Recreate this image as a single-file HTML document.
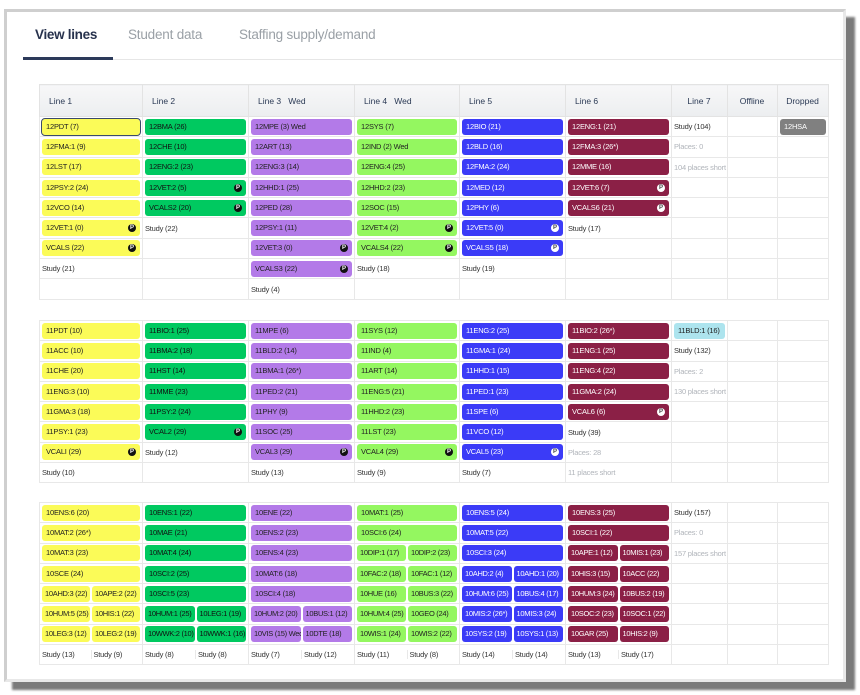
<!DOCTYPE html>
<html><head><meta charset="utf-8"><style>
*{box-sizing:border-box}
body{margin:0;width:860px;height:695px;background:#fff;font-family:"Liberation Sans",sans-serif;position:relative;overflow:hidden}
.shadow{position:absolute;left:12px;top:17px;width:843px;height:673px;background:#7a7a7a;filter:blur(1px)}
.card{position:absolute;left:4px;top:9px;width:842px;height:673px;background:#fff;border:3px solid #cfcfcf;border-right-color:#e8e8e8;border-bottom-color:#e8e8e8}
.tab{position:absolute;top:27px;font-size:13.5px;color:#9aa0a6;letter-spacing:-0.2px}
.tab.a{color:#27324d;font-weight:bold;letter-spacing:-0.3px}
.ul{position:absolute;left:23px;top:57px;width:90px;height:3px;background:#2c3a5a}
.hl{position:absolute;left:23px;top:59px;width:822px;height:1px;background:#e6e6e6}
table{position:absolute;left:39px;border-collapse:collapse;table-layout:fixed;width:789px}
td{border:1px solid #e8e8e8;height:20.3px;padding:0 2px;font-size:7.5px;color:#333;vertical-align:middle;white-space:nowrap;overflow:hidden;letter-spacing:-0.2px}
th{height:32px;border:1px solid #e3e3e3;background:linear-gradient(#f7f7f8,#eceef0);font-weight:normal;font-size:8.5px;color:#2b3a55;text-align:left;padding-left:9px}
th.c{text-align:center;padding-left:0}
.p{height:16px;line-height:16px;border-radius:3px;padding:0 4px;font-size:7.5px;position:relative;overflow:hidden}
.y{background:#fbfb58;color:#222}.g{background:#00c960;color:#111}.u{background:#b37ae8;color:#222}
.l{background:#94f760;color:#222}.b{background:#3b3bf7;color:#fff}.m{background:#8b2046;color:#fff}
.k{background:#808080;color:#fff}.c2{background:#ade4ee;color:#222}
.p i{position:absolute;right:4px;top:4px;width:8px;height:8px;border-radius:50%;background:#111;color:#fff;font-style:normal;font-size:6px;line-height:8px;text-align:center;font-weight:bold;letter-spacing:0}
.b i,.m i{background:#fff;color:#444}
.s{display:flex;gap:2px}.s>.p{flex:1;padding:0 3px;letter-spacing:-0.3px;font-size:7.5px}
.ss{display:flex;margin:0 -2px}.ss>div{flex:1;padding-left:2px}.ss>div+div{border-left:1px solid #e8e8e8}
.gr{color:#b0b4ba}
.sel{outline:1px solid #3a4a6a}
</style></head><body>
<div class="shadow"></div>
<div class="card"></div>
<div class="tab a" style="left:35px">View lines</div>
<div class="tab" style="left:128px">Student data</div>
<div class="tab" style="left:239px">Staffing supply/demand</div>
<div class="hl"></div><div class="ul"></div>

<table style="top:84px">
<colgroup><col style="width:103px"><col style="width:106px"><col style="width:106px"><col style="width:105px"><col style="width:106px"><col style="width:106px"><col style="width:56px"><col style="width:50px"><col style="width:51px"></colgroup>
<tr><th>Line 1</th><th>Line 2</th><th>Line 3&nbsp;&nbsp; Wed</th><th>Line 4&nbsp;&nbsp; Wed</th><th>Line 5</th><th>Line 6</th><th class="c">Line 7</th><th class="c">Offline</th><th class="c">Dropped</th></tr>
<tr><td><div class="p y sel">12PDT (7)</div></td><td><div class="p g">12BMA (26)</div></td><td><div class="p u">12MPE (3) Wed</div></td><td><div class="p l">12SYS (7)</div></td><td><div class="p b">12BIO (21)</div></td><td><div class="p m">12ENG:1 (21)</div></td><td>Study (104)</td><td></td><td><div class="p k">12HSA</div></td></tr>
<tr><td><div class="p y">12FMA:1 (9)</div></td><td><div class="p g">12CHE (10)</div></td><td><div class="p u">12ART (13)</div></td><td><div class="p l">12IND (2) Wed</div></td><td><div class="p b">12BLD (16)</div></td><td><div class="p m">12FMA:3 (26*)</div></td><td class="gr">Places: 0</td><td></td><td></td></tr>
<tr><td><div class="p y">12LST (17)</div></td><td><div class="p g">12ENG:2 (23)</div></td><td><div class="p u">12ENG:3 (14)</div></td><td><div class="p l">12ENG:4 (25)</div></td><td><div class="p b">12FMA:2 (24)</div></td><td><div class="p m">12MME (16)</div></td><td class="gr">104 places short</td><td></td><td></td></tr>
<tr><td><div class="p y">12PSY:2 (24)</div></td><td><div class="p g">12VET:2 (5)<i>P</i></div></td><td><div class="p u">12HHD:1 (25)</div></td><td><div class="p l">12HHD:2 (23)</div></td><td><div class="p b">12MED (12)</div></td><td><div class="p m">12VET:6 (7)<i>P</i></div></td><td></td><td></td><td></td></tr>
<tr><td><div class="p y">12VCO (14)</div></td><td><div class="p g">VCALS2 (20)<i>P</i></div></td><td><div class="p u">12PED (28)</div></td><td><div class="p l">12SOC (15)</div></td><td><div class="p b">12PHY (6)</div></td><td><div class="p m">VCALS6 (21)<i>P</i></div></td><td></td><td></td><td></td></tr>
<tr><td><div class="p y">12VET:1 (0)<i>P</i></div></td><td>Study (22)</td><td><div class="p u">12PSY:1 (11)</div></td><td><div class="p l">12VET:4 (2)<i>P</i></div></td><td><div class="p b">12VET:5 (0)<i>P</i></div></td><td>Study (17)</td><td></td><td></td><td></td></tr>
<tr><td><div class="p y">VCALS (22)<i>P</i></div></td><td></td><td><div class="p u">12VET:3 (0)<i>P</i></div></td><td><div class="p l">VCALS4 (22)<i>P</i></div></td><td><div class="p b">VCALS5 (18)<i>P</i></div></td><td></td><td></td><td></td><td></td></tr>
<tr><td>Study (21)</td><td></td><td><div class="p u">VCALS3 (22)<i>P</i></div></td><td>Study (18)</td><td>Study (19)</td><td></td><td></td><td></td><td></td></tr>
<tr><td></td><td></td><td>Study (4)</td><td></td><td></td><td></td><td></td><td></td><td></td></tr>
</table>

<table style="top:320px">
<colgroup><col style="width:103px"><col style="width:106px"><col style="width:106px"><col style="width:105px"><col style="width:106px"><col style="width:106px"><col style="width:56px"><col style="width:50px"><col style="width:51px"></colgroup>
<tr><td><div class="p y">11PDT (10)</div></td><td><div class="p g">11BIO:1 (25)</div></td><td><div class="p u">11MPE (6)</div></td><td><div class="p l">11SYS (12)</div></td><td><div class="p b">11ENG:2 (25)</div></td><td><div class="p m">11BIO:2 (26*)</div></td><td><div class="p c2">11BLD:1 (16)</div></td><td></td><td></td></tr>
<tr><td><div class="p y">11ACC (10)</div></td><td><div class="p g">11BMA:2 (18)</div></td><td><div class="p u">11BLD:2 (14)</div></td><td><div class="p l">11IND (4)</div></td><td><div class="p b">11GMA:1 (24)</div></td><td><div class="p m">11ENG:1 (25)</div></td><td>Study (132)</td><td></td><td></td></tr>
<tr><td><div class="p y">11CHE (20)</div></td><td><div class="p g">11HST (14)</div></td><td><div class="p u">11BMA:1 (26*)</div></td><td><div class="p l">11ART (14)</div></td><td><div class="p b">11HHD:1 (15)</div></td><td><div class="p m">11ENG:4 (22)</div></td><td class="gr">Places: 2</td><td></td><td></td></tr>
<tr><td><div class="p y">11ENG:3 (10)</div></td><td><div class="p g">11MME (23)</div></td><td><div class="p u">11PED:2 (21)</div></td><td><div class="p l">11ENG:5 (21)</div></td><td><div class="p b">11PED:1 (23)</div></td><td><div class="p m">11GMA:2 (24)</div></td><td class="gr">130 places short</td><td></td><td></td></tr>
<tr><td><div class="p y">11GMA:3 (18)</div></td><td><div class="p g">11PSY:2 (24)</div></td><td><div class="p u">11PHY (9)</div></td><td><div class="p l">11HHD:2 (23)</div></td><td><div class="p b">11SPE (6)</div></td><td><div class="p m">VCAL6 (6)<i>P</i></div></td><td></td><td></td><td></td></tr>
<tr><td><div class="p y">11PSY:1 (23)</div></td><td><div class="p g">VCAL2 (29)<i>P</i></div></td><td><div class="p u">11SOC (25)</div></td><td><div class="p l">11LST (23)</div></td><td><div class="p b">11VCO (12)</div></td><td>Study (39)</td><td></td><td></td><td></td></tr>
<tr><td><div class="p y">VCALI (29)<i>P</i></div></td><td>Study (12)</td><td><div class="p u">VCAL3 (29)<i>P</i></div></td><td><div class="p l">VCAL4 (29)<i>P</i></div></td><td><div class="p b">VCAL5 (23)<i>P</i></div></td><td class="gr">Places: 28</td><td></td><td></td><td></td></tr>
<tr><td>Study (10)</td><td></td><td>Study (13)</td><td>Study (9)</td><td>Study (7)</td><td class="gr">11 places short</td><td></td><td></td><td></td></tr>
</table>

<table style="top:502px">
<colgroup><col style="width:103px"><col style="width:106px"><col style="width:106px"><col style="width:105px"><col style="width:106px"><col style="width:106px"><col style="width:56px"><col style="width:50px"><col style="width:51px"></colgroup>
<tr><td><div class="p y">10ENS:6 (20)</div></td><td><div class="p g">10ENS:1 (22)</div></td><td><div class="p u">10ENE (22)</div></td><td><div class="p l">10MAT:1 (25)</div></td><td><div class="p b">10ENS:5 (24)</div></td><td><div class="p m">10ENS:3 (25)</div></td><td>Study (157)</td><td></td><td></td></tr>
<tr><td><div class="p y">10MAT:2 (26*)</div></td><td><div class="p g">10MAE (21)</div></td><td><div class="p u">10ENS:2 (23)</div></td><td><div class="p l">10SCI:6 (24)</div></td><td><div class="p b">10MAT:5 (22)</div></td><td><div class="p m">10SCI:1 (22)</div></td><td class="gr">Places: 0</td><td></td><td></td></tr>
<tr><td><div class="p y">10MAT:3 (23)</div></td><td><div class="p g">10MAT:4 (24)</div></td><td><div class="p u">10ENS:4 (23)</div></td><td><div class="s"><div class="p l">10DIP:1 (17)</div><div class="p l">10DIP:2 (23)</div></div></td><td><div class="p b">10SCI:3 (24)</div></td><td><div class="s"><div class="p m">10APE:1 (12)</div><div class="p m">10MIS:1 (23)</div></div></td><td class="gr">157 places short</td><td></td><td></td></tr>
<tr><td><div class="p y">10SCE (24)</div></td><td><div class="p g">10SCI:2 (25)</div></td><td><div class="p u">10MAT:6 (18)</div></td><td><div class="s"><div class="p l">10FAC:2 (18)</div><div class="p l">10FAC:1 (12)</div></div></td><td><div class="s"><div class="p b">10AHD:2 (4)</div><div class="p b">10AHD:1 (20)</div></div></td><td><div class="s"><div class="p m">10HIS:3 (15)</div><div class="p m">10ACC (22)</div></div></td><td></td><td></td><td></td></tr>
<tr><td><div class="s"><div class="p y">10AHD:3 (22)</div><div class="p y">10APE:2 (22)</div></div></td><td><div class="p g">10SCI:5 (23)</div></td><td><div class="p u">10SCI:4 (18)</div></td><td><div class="s"><div class="p l">10HUE (16)</div><div class="p l">10BUS:3 (22)</div></div></td><td><div class="s"><div class="p b">10HUM:6 (25)</div><div class="p b">10BUS:4 (17)</div></div></td><td><div class="s"><div class="p m">10HUM:3 (24)</div><div class="p m">10BUS:2 (19)</div></div></td><td></td><td></td><td></td></tr>
<tr><td><div class="s"><div class="p y">10HUM:5 (25)</div><div class="p y">10HIS:1 (22)</div></div></td><td><div class="s"><div class="p g">10HUM:1 (25)</div><div class="p g">10LEG:1 (19)</div></div></td><td><div class="s"><div class="p u">10HUM:2 (20)</div><div class="p u">10BUS:1 (12)</div></div></td><td><div class="s"><div class="p l">10HUM:4 (25)</div><div class="p l">10GEO (24)</div></div></td><td><div class="s"><div class="p b">10MIS:2 (26*)</div><div class="p b">10MIS:3 (24)</div></div></td><td><div class="s"><div class="p m">10SOC:2 (23)</div><div class="p m">10SOC:1 (22)</div></div></td><td></td><td></td><td></td></tr>
<tr><td><div class="s"><div class="p y">10LEG:3 (12)</div><div class="p y">10LEG:2 (19)</div></div></td><td><div class="s"><div class="p g">10WWK:2 (10)</div><div class="p g">10WWK:1 (16)</div></div></td><td><div class="s"><div class="p u">10VIS (15) Wed</div><div class="p u">10DTE (18)</div></div></td><td><div class="s"><div class="p l">10WIS:1 (24)</div><div class="p l">10WIS:2 (22)</div></div></td><td><div class="s"><div class="p b">10SYS:2 (19)</div><div class="p b">10SYS:1 (13)</div></div></td><td><div class="s"><div class="p m">10GAR (25)</div><div class="p m">10HIS:2 (9)</div></div></td><td></td><td></td><td></td></tr>
<tr><td><div class="ss"><div>Study (13)</div><div>Study (9)</div></div></td><td><div class="ss"><div>Study (8)</div><div>Study (8)</div></div></td><td><div class="ss"><div>Study (7)</div><div>Study (12)</div></div></td><td><div class="ss"><div>Study (11)</div><div>Study (8)</div></div></td><td><div class="ss"><div>Study (14)</div><div>Study (14)</div></div></td><td><div class="ss"><div>Study (13)</div><div>Study (17)</div></div></td><td></td><td></td><td></td></tr>
</table>
</body></html>
